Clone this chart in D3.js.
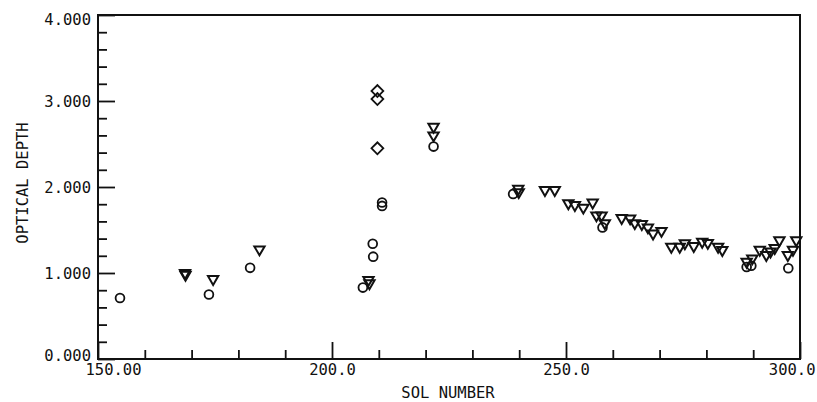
<!DOCTYPE html>
<html>
<head>
<meta charset="utf-8">
<script src="https://cdn.jsdelivr.net/npm/d3@7"></script>
<style>
  html, body { margin: 0; padding: 0; background: #fff; }
  svg { display: block; }
  text { font-family: "DejaVu Sans Mono", "Liberation Mono", monospace; fill: #111; }
</style>
</head>
<body>
<svg id="chart" width="817" height="402"></svg>
<script>
// Optical depth by sol, three instrument/filter sets
const circleSol = [154.7, 173.7, 182.5, 206.6, 208.7, 208.8, 210.7, 210.7, 221.7, 238.7, 257.8, 288.6, 289.6, 297.5];
const circleOD  = [0.71, 0.75, 1.06, 0.83, 1.34, 1.19, 1.82, 1.78, 2.47, 1.92, 1.53, 1.07, 1.085, 1.055];

const triangleSol = [168.6, 168.7, 174.6, 184.5, 207.8, 208.0, 221.7, 221.7, 239.8, 239.9,
  245.5, 247.6, 250.5, 251.9, 253.7, 255.7, 256.5, 257.6, 258.3, 261.9, 263.7, 264.7,
  266.2, 267.5, 268.6, 270.4, 272.5, 274.3, 275.4, 277.3, 279.1, 280.3, 282.5, 283.4,
  288.6, 289.8, 291.4, 292.8, 293.7, 294.6, 295.6, 297.4, 298.5, 299.2];
const triangleOD = [1.00, 0.98, 0.93, 1.275, 0.92, 0.88, 2.70, 2.60, 1.98, 1.94,
  1.965, 1.965, 1.81, 1.79, 1.76, 1.82, 1.67, 1.67, 1.58, 1.64, 1.635, 1.58,
  1.57, 1.53, 1.46, 1.49, 1.305, 1.305, 1.345, 1.314, 1.364, 1.35, 1.305, 1.267,
  1.13, 1.17, 1.27, 1.21, 1.25, 1.29, 1.38, 1.21, 1.27, 1.38];

const diamondSol = [209.7, 209.7, 209.7];
const diamondOD  = [3.116, 3.023, 2.45];

const xTickValues = [150, 200, 250, 300];
const xTickLabels = ["150.00", "200.0", "250.0", "300.0"];
const yTickValues = [0, 1, 2, 3, 4];
const yTickLabels = ["0.000", "1.000", "2.000", "3.000", "4.000"];
const xTitle = "SOL NUMBER";
const yTitle = "OPTICAL DEPTH";

const svg = d3.select("#chart");
const L = 98, R = 800, T = 15, B = 359;

const x = d3.scaleLinear().domain([150, 300]).range([L, R]);
const y = d3.scaleLinear().domain([0, 4]).range([B, T]);

const ink = "#111";

// minor ticks
const xMinor = d3.range(160, 300, 10).filter(v => v % 50 !== 0);
const yMinor = d3.range(0.2, 4, 0.2).filter(v => Math.abs(v - Math.round(v)) > 1e-6);

svg.append("g").attr("transform", `translate(0,${B})`)
  .call(d3.axisBottom(x).tickValues(xMinor).tickSize(-9).tickFormat(""))
  .call(g => g.select(".domain").remove())
  .call(g => g.selectAll("line").attr("stroke", ink).attr("stroke-width", 1.8));

svg.append("g").attr("transform", `translate(${L},0)`)
  .call(d3.axisLeft(y).tickValues(yMinor).tickSize(-9).tickFormat(""))
  .call(g => g.select(".domain").remove())
  .call(g => g.selectAll("line").attr("stroke", ink).attr("stroke-width", 1.8));

// major ticks and labels
const xAxis = svg.append("g").attr("transform", `translate(0,${B})`)
  .call(d3.axisBottom(x).tickValues(xTickValues).tickSize(-17).tickPadding(14)
    .tickFormat((d, i) => xTickLabels[i]))
  .call(g => g.select(".domain").remove())
  .call(g => g.selectAll("line").attr("stroke", ink).attr("stroke-width", 1.8));
xAxis.selectAll("text")
  .attr("font-size", 15.5).attr("fill", ink)
  .attr("font-family", "DejaVu Sans Mono, monospace")
  .attr("dy", "0.1em")
  .attr("text-anchor", (d, i) => i === 0 ? "start" : (i === xTickValues.length - 1 ? "end" : "middle"))
  .attr("dx", (d, i) => i === 0 ? -13 : (i === xTickValues.length - 1 ? 15 : 0));

const yAxis = svg.append("g").attr("transform", `translate(${L},0)`)
  .call(d3.axisLeft(y).tickValues(yTickValues).tickSize(-17).tickPadding(7)
    .tickFormat((d, i) => yTickLabels[i]))
  .call(g => g.select(".domain").remove())
  .call(g => g.selectAll("line").attr("stroke", ink).attr("stroke-width", 1.8));
yAxis.selectAll("text")
  .attr("font-size", 15.5).attr("fill", ink)
  .attr("font-family", "DejaVu Sans Mono, monospace")
  .attr("dy", (d, i) => i === 0 ? "0.1em" : (i === yTickValues.length - 1 ? "0.58em" : "0.36em"));

// frame
svg.append("rect")
  .attr("x", L).attr("y", T).attr("width", R - L).attr("height", B - T)
  .attr("fill", "none").attr("stroke", ink).attr("stroke-width", 2);

// axis titles
svg.append("text")
  .attr("x", 448).attr("y", 398)
  .attr("text-anchor", "middle").attr("font-size", 15.5)
  .text(xTitle);

svg.append("text")
  .attr("transform", `translate(28,183) rotate(-90)`)
  .attr("text-anchor", "middle").attr("font-size", 15.5)
  .text(yTitle);

// markers
const marks = svg.append("g").attr("fill", "none").attr("stroke", ink).attr("stroke-width", 1.8);

marks.selectAll("circle.c")
  .data(d3.zip(circleSol, circleOD))
  .join("circle")
  .attr("class", "c")
  .attr("cx", d => x(d[0])).attr("cy", d => y(d[1]))
  .attr("r", 4.4);

const triPath = d3.symbol(d3.symbolTriangle, 46)();
marks.selectAll("path.t")
  .data(d3.zip(triangleSol, triangleOD))
  .join("path")
  .attr("class", "t")
  .attr("d", triPath)
  .attr("stroke-width", 2)
  .attr("stroke-linejoin", "miter")
  .attr("transform", d => `translate(${x(d[0])},${y(d[1])}) rotate(180)`);

const diaPath = d3.symbol(d3.symbolSquare, 70)();
marks.selectAll("path.d")
  .data(d3.zip(diamondSol, diamondOD))
  .join("path")
  .attr("class", "d")
  .attr("d", diaPath)
  .attr("transform", d => `translate(${x(d[0])},${y(d[1])}) rotate(45)`);
</script>
</body>
</html>
